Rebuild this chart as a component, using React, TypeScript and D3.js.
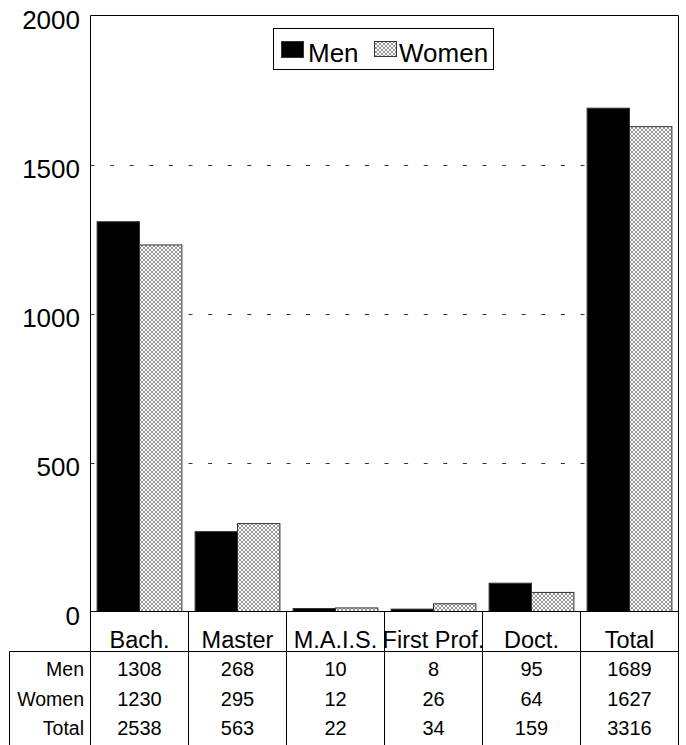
import React from 'react';
import * as d3 from 'd3';

const categories = ['Bach.', 'Master', 'M.A.I.S.', 'First Prof.', 'Doct.', 'Total'];
const seriesNames = ['Men', 'Women'];
const menValues = [1308, 268, 10, 8, 95, 1689];
const womenValues = [1230, 295, 12, 26, 64, 1627];
const totalValues = [2538, 563, 22, 34, 159, 3316];
const yTicks = [0, 500, 1000, 1500, 2000];
const gridTicks = [500, 1000, 1500];

const W = 686;
const H = 745;
const FONT = '"Liberation Sans", Arial, sans-serif';

export default function App() {
  const left = 90.5;
  const right = 678.5;
  const top = 15.5;
  const bottom = 611.5;

  const x0 = d3.scaleBand<string>().domain(categories).range([left, right]).padding(0);
  const inset = 6.6;
  const x1 = d3
    .scaleBand<string>()
    .domain(seriesNames)
    .range([inset, x0.bandwidth() - inset])
    .padding(0);
  const y = d3.scaleLinear().domain([0, 2000]).range([bottom, top]);

  const seriesValues: Record<string, number[]> = { Men: menValues, Women: womenValues };
  const fills: Record<string, string> = { Men: '#000', Women: 'url(#xhatch)' };

  const rows = [
    { label: 'Men', values: menValues },
    { label: 'Women', values: womenValues },
    { label: 'Total', values: totalValues },
  ];
  const rowBaselines = [676, 705.5, 735];

  return (
    <div style={{ position: 'absolute', left: 0, top: 0 }}>
      <svg width={W} height={H} style={{ display: 'block', fontFamily: FONT }}>
        <defs>
          <pattern id="xhatch" width={4} height={4} patternUnits="userSpaceOnUse">
            <rect width={4} height={4} fill="#fff" />
            <path d="M0,0 L4,4 M4,0 L0,4" stroke="#7a7a7a" strokeWidth={0.8} />
          </pattern>
        </defs>
        <rect x={0} y={0} width={W} height={H} fill="#fff" />

        {/* gridlines */}
        {gridTicks.map((t) => (
          <line
            key={t}
            x1={left}
            x2={right}
            y1={Math.round(y(t)) + 0.5}
            y2={Math.round(y(t)) + 0.5}
            stroke="#333"
            strokeWidth={1}
            strokeDasharray="4 15.6"
          />
        ))}

        {/* bars */}
        {categories.map((c, i) => (
          <g key={c}>
            {seriesNames.map((s) => {
              const v = seriesValues[s][i];
              const bx = (x0(c) as number) + (x1(s) as number);
              return (
                <rect
                  key={s}
                  x={bx}
                  y={y(v)}
                  width={x1.bandwidth()}
                  height={y(0) - y(v)}
                  fill={fills[s]}
                  stroke="#333"
                  strokeWidth={1}
                />
              );
            })}
          </g>
        ))}

        {/* plot frame */}
        <line x1={left} x2={right} y1={top} y2={top} stroke="#000" />
        <line x1={left} x2={left} y1={top} y2={H} stroke="#000" />
        <line x1={right} x2={right} y1={top} y2={H} stroke="#000" />
        <line x1={left} x2={right} y1={bottom} y2={bottom} stroke="#000" />

        {/* y tick labels */}
        {yTicks.map((t) => (
          <text key={t} x={80} y={y(t) + 13} textAnchor="end" fontSize={26} fill="#000">
            {t}
          </text>
        ))}

        {/* table grid */}
        {categories.slice(1).map((c) => (
          <line
            key={c}
            x1={x0(c) as number}
            x2={x0(c) as number}
            y1={bottom}
            y2={H}
            stroke="#000"
          />
        ))}
        <line x1={9.5} x2={right} y1={651.5} y2={651.5} stroke="#000" />
        <line x1={9.5} x2={9.5} y1={651.5} y2={H} stroke="#000" />

        {/* category labels */}
        {categories.map((c) => (
          <text
            key={c}
            x={(x0(c) as number) + x0.bandwidth() / 2}
            y={648}
            textAnchor="middle"
            fontSize={23.5}
            fill="#000"
          >
            {c}
          </text>
        ))}

        {/* table rows */}
        {rows.map((r, ri) => (
          <g key={r.label}>
            <text x={84} y={rowBaselines[ri]} textAnchor="end" fontSize={19.5} fill="#000">
              {r.label}
            </text>
            {r.values.map((v, i) => (
              <text
                key={i}
                x={(x0(categories[i]) as number) + x0.bandwidth() / 2}
                y={rowBaselines[ri]}
                textAnchor="middle"
                fontSize={20}
                fill="#000"
              >
                {v}
              </text>
            ))}
          </g>
        ))}

        {/* legend */}
        <g>
          <rect x={273.5} y={28.5} width={220} height={41} fill="#fff" stroke="#000" />
          <rect x={281.5} y={41.5} width={22} height={16} fill="#000" stroke="#333" />
          <text x={308} y={62} fontSize={26} fill="#000">
            Men
          </text>
          <rect x={374.5} y={41.5} width={22} height={15} fill="url(#xhatch)" stroke="#333" />
          <text x={399} y={62} fontSize={26} fill="#000">
            Women
          </text>
        </g>
      </svg>
    </div>
  );
}
